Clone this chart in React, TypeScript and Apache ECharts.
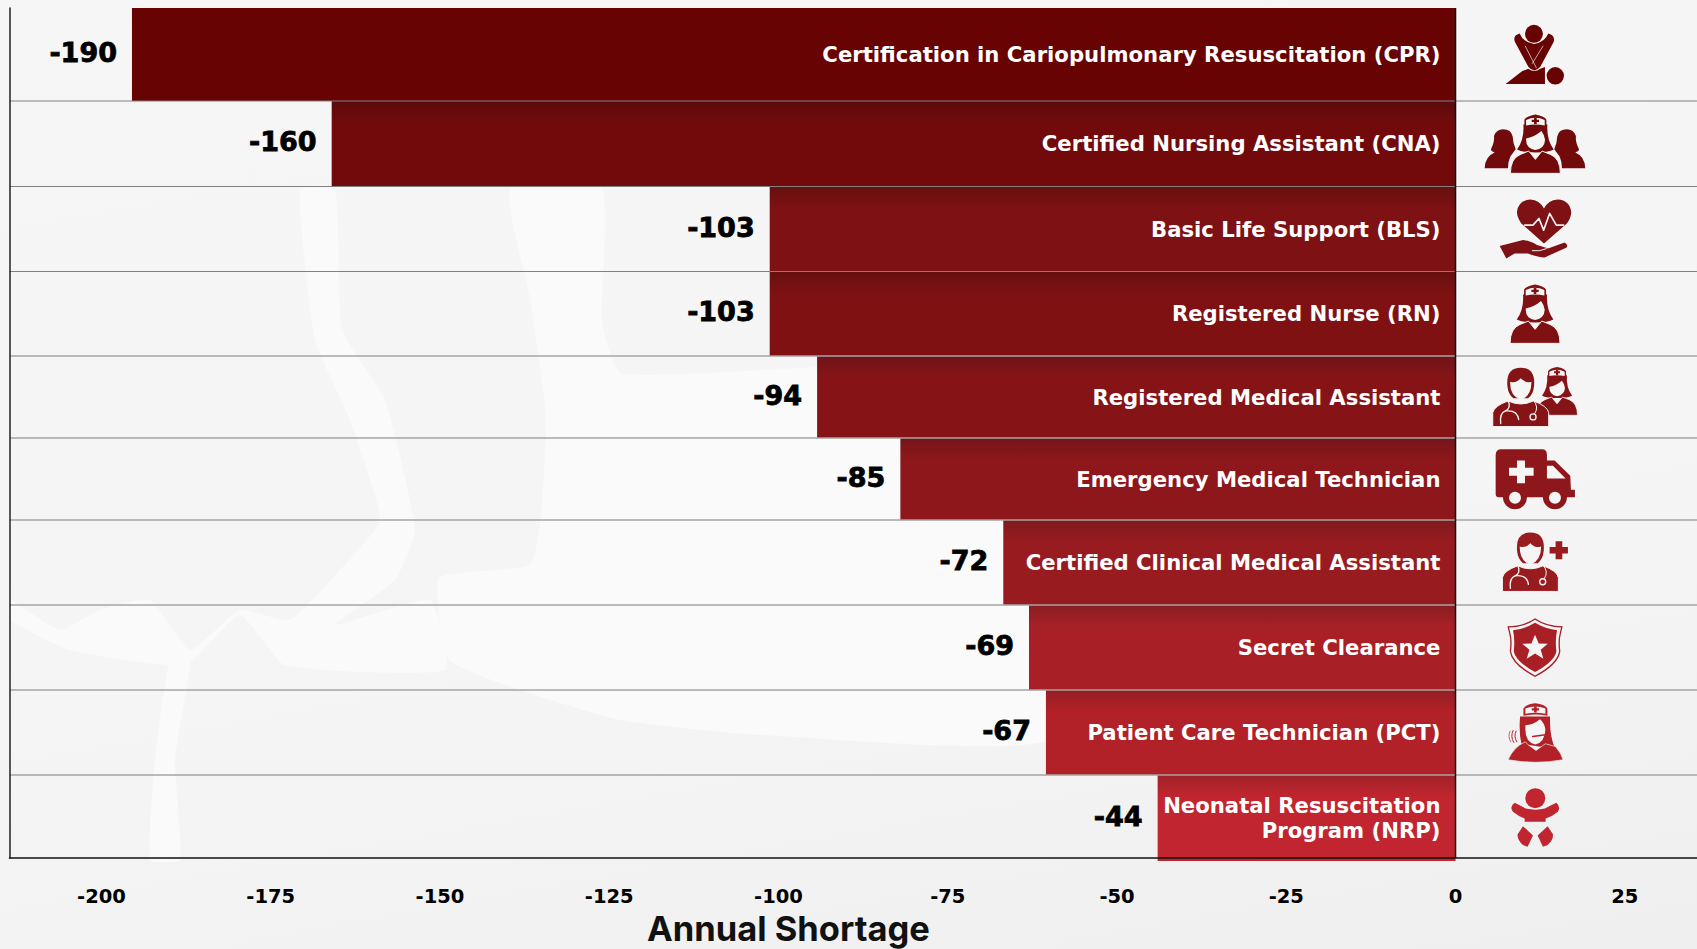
import React, { useEffect, useRef } from "react";
import * as echarts from "echarts";

const categories = [
  "Certification in Cariopulmonary Resuscitation (CPR)",
  "Certified Nursing Assistant (CNA)",
  "Basic Life Support (BLS)",
  "Registered Nurse (RN)",
  "Registered Medical Assistant",
  "Emergency Medical Technician",
  "Certified Clinical Medical Assistant",
  "Secret Clearance",
  "Patient Care Technician (PCT)",
  "Neonatal Resuscitation\nProgram (NRP)",
];
// Bar lengths as drawn in the picture (they differ from the printed labels).
const barValues = [-195.5, -166, -101.3, -101.3, -94.3, -82, -66.8, -63, -60.5, -44];
const valueLabels = ["-190", "-160", "-103", "-103", "-94", "-85", "-72", "-69", "-67", "-44"];
// Row boundaries on the hidden vertical scale: the rows are not of equal height.
const rowEdges = [0, 93, 178.5, 263.5, 348, 430, 512, 597, 682, 767, 853];
const barColors = ["#670303", "#720a0c", "#7e1113", "#7f1113", "#861417", "#8d171b", "#981b20", "#a82026", "#b22127", "#c1252f"];
const barShades = ["#670303", "#5c0a0c", "#66100f", "#66100f", "#701417", "#74151a", "#7e1a1e", "#8a1d22", "#941e23", "#a02127"];
const xTicks = [-200, -175, -150, -125, -100, -75, -50, -25, 0, 25];
const xName = "Annual Shortage";

const FONT = "'DejaVu Sans'";
const TITLE_FONT = "Inter";
const BG = "#f5f5f5";
const ICON_X = 11.75;

type Part = { d: string; k: "c" | "b" | "s" | "sc" | "cb"; w?: number };
type Sub = { x: number; y: number; s: number; parts: Node[] };
type Node = Part | Sub;

const circ = (x: number, y: number, r: number) =>
  `M${x - r} ${y}A${r} ${r} 0 1 0 ${x + r} ${y}A${r} ${r} 0 1 0 ${x - r} ${y}Z`;

const nurse: Node[] = [
  { d: "M-36 30 L36 30 Q33 75 55 105 Q40 114 0 114 Q-40 114 -55 105 Q-33 75 -36 30 Z", k: "c" },
  { d: "M-33 37 L-33 16 Q-28 5 0 0 Q28 5 33 16 L33 37 Q0 30 -33 37 Z", k: "c" },
  { d: "M-28 33 L-28 17 Q0 3 28 17 L28 33 Q0 27 -28 33 Z", k: "b" },
  { d: "M-4 10 h8 v6 h7 v7 h-7 v6 h-8 v-6 h-7 v-7 h7 z", k: "c" },
  { d: "M-28 72 Q-6 70 18 50 Q26 60 29 76 Q28 102 0 107 Q-28 102 -28 76 Z", k: "b" },
  { d: "M-75 177 Q-75 132 -45 120 L-20 110 L0 135 L20 110 L45 120 Q75 132 75 177 Z", k: "cb", w: 3 },
];
const doctor: Node[] = [
  { d: "M-40 55 Q-45 0 0 0 Q45 0 40 55 Q38 80 22 92 L-22 92 Q-38 80 -40 55 Z", k: "c" },
  { d: "M-32 42 Q-15 48 0 32 Q15 48 32 42 Q33 85 0 97 Q-33 85 -32 42 Z", k: "b" },
  { d: "M-84 177 L-84 135 Q-80 115 -38 100 Q0 118 38 100 Q80 115 84 135 L84 177 Z", k: "cb", w: 3 },
  { d: "M-38 98 Q-28 122 -46 130 Q-64 136 -60 168", k: "s", w: 4 },
  { d: "M-46 130 Q-10 126 -6 156", k: "s", w: 4 },
  { d: "M38 98 Q56 118 42 138", k: "s", w: 3 },
  { d: circ(37, 148, 9), k: "s", w: 4 },
];
const sideFigures: Node[] = [
  { d: "M135 505 Q136 470 165 458 Q150 452 155 445 Q165 425 163 408 Q170 388 190 388 Q215 388 219 410 Q220 430 228 448 L212 470 Q205 485 205 505 Z", k: "c" },
  { d: "M437 505 Q436 470 407 458 Q422 452 417 445 Q407 425 409 408 Q402 388 382 388 Q357 388 353 410 Q352 430 344 448 L360 470 Q367 485 367 505 Z", k: "c" },
];

// Icons: [centre y of the drawing, parts], coordinates in a 3x-enlarged space.
const icons: [number, Node[]][] = [
  [165, [
    { d: "M226 128 Q218 108 240 102 Q250 128 283 134 Q316 128 326 102 Q348 108 342 128 L302 202 Q284 224 266 202 Z", k: "c" },
    { d: "M257 140 L290 205", k: "s", w: 2 },
    { d: "M310 140 L278 192", k: "s", w: 2 },
    { d: circ(283, 103, 27), k: "c" },
    { d: "M198 254 L248 215 L266 208 Q284 222 302 208 L316 203 L316 254 Z", k: "c" },
    { d: circ(347, 229, 26), k: "c" },
  ]],
  [431, [...sideFigures, { x: 287, y: 343, s: 1, parts: nurse }]],
  [686, [
    { d: "M313 730 L245 670 Q232 652 232 635 Q236 600 272 598 Q300 600 313 625 Q326 600 354 598 Q392 600 395 638 Q392 660 380 672 Z", k: "c" },
    { d: "M255 675 L280 675 L298 655 L312 690 L330 640 L350 675 L372 675", k: "s", w: 5 },
    { d: "M180 738 L250 720 Q275 722 292 735 Q315 742 325 745 L375 727 Q388 735 380 743 L315 772 Q295 772 265 760 L225 760 L200 775 Z", k: "c" },
    { d: "M278 752 Q300 755 320 746", k: "s", w: 3 },
  ]],
  [940, [{ x: 286, y: 852, s: 1, parts: nurse }]],
  [173, [
    { x: 352, y: 83, s: 0.82, parts: nurse },
    { x: 243, y: 85, s: 1, parts: doctor },
  ]],
  [417, [
    { d: "M168 345 Q168 328 185 328 L308 328 Q322 328 322 345 L322 362 L345 362 L392 408 L394 450 L406 450 L406 472 L175 472 Q168 472 168 462 Z", k: "c" },
    { d: "M322 378 L340 378 L378 416 L322 416 Z", k: "b" },
    { d: "M232 362 h24 v22 h26 v24 h-26 v22 h-24 v-22 h-24 v-24 h24 z", k: "b" },
    { d: circ(226, 472, 36), k: "c" },
    { d: circ(226, 474, 18), k: "b" },
    { d: circ(346, 472, 36), k: "c" },
    { d: circ(346, 474, 18), k: "b" },
  ]],
  [668, [
    { x: 272, y: 578, s: 1, parts: doctor },
    { d: "M348 605 h20 v17 h17 v20 h-17 v17 h-20 v-17 h-18 v-20 h18 z", k: "c" },
  ]],
  [88, [
    { x: 286, y: 0, s: 1, parts: [
      { d: "M0 0 Q35 24 83 24 L78 45 Q72 65 76 100 Q70 140 0 177 Q-70 140 -76 100 Q-72 65 -78 45 L-83 24 Q-35 24 0 0 Z", k: "c" },
      { d: "M0 5 Q35 28 78 28 L74 45 Q68 65 72 100 Q66 136 0 172 Q-66 136 -72 100 Q-68 65 -74 45 L-78 28 Q-35 28 0 5 Z", k: "b" },
      { d: "M0 14 Q35 34 66 36 Q60 65 64 100 Q58 130 0 162 Q-58 130 -64 100 Q-60 65 -66 36 Q-35 34 0 14 Z", k: "c" },
      { d: "M0 50 L11 76 L38 77 L17 95 L25 122 L0 106 L-25 122 L-17 95 L-38 77 L-11 76 Z", k: "b" },
    ] },
  ]],
  [308, [
    { x: 287, y: 220, s: 1, parts: [
      { d: "M-46 40 Q-50 90 -42 122 L60 138 Q42 100 44 40 Z", k: "c" },
      { d: "M-36 38 L-36 16 Q-28 3 0 0 Q28 3 36 16 L36 38 Q0 30 -36 38 Z", k: "c" },
      { d: "M-30 32 L-30 16 Q0 4 30 16 L30 32 Q0 25 -30 32 Z", k: "b" },
      { d: "M-4 9 h8 v6 h7 v7 h-7 v6 h-8 v-6 h-7 v-7 h7 z", k: "c" },
      { d: "M-30 66 Q-8 66 14 48 Q28 60 30 80 Q28 118 0 124 Q-30 118 -30 80 Z", k: "b" },
      { d: "M-8 100 L36 94", k: "sc", w: 5 },
      { d: "M-82 170 Q-66 132 -30 116 L-22 125 L2 142 L30 122 L60 130 Q78 150 83 170 Q0 185 -82 170 Z", k: "cb", w: 2 },
      { d: "M-58 84 Q-66 100 -56 116", k: "sc", w: 3 },
      { d: "M-67 82 Q-76 100 -65 118", k: "sc", w: 3 },
      { d: "M-76 84 Q-84 100 -74 116", k: "sc", w: 2 },
    ] },
  ]],
  [563, [
    { d: circ(287, 504, 30), k: "c" },
    { d: "M255 575 L255 565 Q235 558 220 545 Q208 530 225 518 Q240 525 258 535 Q287 542 316 535 Q335 525 350 518 Q364 530 355 545 Q340 558 318 565 L318 575 Z", k: "c" },
    { d: "M250 588 L280 616 L264 650 L250 645 Q232 628 234 612 Z", k: "c" },
    { d: "M324 588 L294 616 L310 650 L324 645 Q342 628 340 612 Z", k: "c" },
  ]],
];

function buildIcon(nodes: Node[], color: string): any[] {
  return nodes.map((n: any) => {
    if (n.parts) {
      return { type: "group", x: n.x, y: n.y, scaleX: n.s, scaleY: n.s, children: buildIcon(n.parts, color) };
    }
    const style: any =
      n.k === "c" ? { fill: color } :
      n.k === "b" ? { fill: BG } :
      n.k === "s" ? { fill: "none", stroke: BG, lineWidth: n.w, lineJoin: "round", lineCap: "round" } :
      n.k === "sc" ? { fill: "none", stroke: color, lineWidth: n.w, lineCap: "round" } :
      { fill: color, stroke: BG, lineWidth: n.w };
    return { type: "path", shape: { pathData: n.d }, style };
  });
}

const rows = barValues.map((v, i) => [v, rowEdges[i], rowEdges[i + 1], i]);

function renderBar(_p: any, api: any) {
  const i = api.value(3);
  const end = api.coord([api.value(0), api.value(2)]);
  const start = api.coord([0, api.value(1)]);
  const h = end[1] - start[1];
  const cy = (start[1] + end[1]) / 2;
  const fade = Math.min(1, 22 / h);
  const children: any[] = [
    {
      type: "rect",
      shape: { x: end[0], y: start[1], width: start[0] - end[0], height: h },
      style: {
        fill: new echarts.graphic.LinearGradient(0, 0, 0, 1, [
          { offset: 0, color: barShades[i] },
          { offset: fade, color: barColors[i] },
          { offset: 1, color: barColors[i] },
        ]),
      },
    },
    {
      type: "text",
      style: {
        text: valueLabels[i], x: end[0] - 15, y: cy - 2, align: "right", verticalAlign: "middle",
        fill: "#000", stroke: "#000", lineWidth: 0.8, font: `bold 27px ${FONT}`,
      },
    },
    {
      type: "text",
      style: {
        text: categories[i], x: start[0] - 15, y: cy, align: "right", verticalAlign: "middle",
        fill: "#fff", font: `bold 21.2px ${FONT}`, lineHeight: 25,
      },
    },
    {
      type: "group",
      x: api.coord([ICON_X, 0])[0],
      y: cy,
      scaleX: 1 / 3,
      scaleY: 1 / 3,
      children: [{ type: "group", x: -286, y: -icons[i][0], children: buildIcon(icons[i][1], barColors[i]) }],
    },
  ];
  return { type: "group", children };
}

function renderLine(_p: any, api: any) {
  const i = api.value(1);
  const size = api.getWidth();
  const y = api.coord([0, api.value(0)])[1];
  if (i === barValues.length - 1) return null as any;
  return {
    type: "line",
    shape: { x1: 9.5, y1: y, x2: size, y2: y },
    style: { stroke: i < 3 ? "#808080" : "#a4a4a4", lineWidth: i < 3 ? 1 : 1.6 },
  };
}

function renderZero(_p: any, api: any) {
  const a = api.coord([0, api.value(0)]);
  const b = api.coord([0, api.value(1)]);
  return { type: "line", shape: { x1: a[0], y1: a[1], x2: b[0], y2: b[1] }, style: { stroke: "#111", lineWidth: 1.5 } };
}

const veins = [
  [[510,190],[602,190],[602,323],[622,374],[1060,374],[1060,735],[760,735],[620,720],[520,690],[449,660],[439,578],[530,565],[541,517],[546,415],[530,298]],
  [[300,190],[335,190],[342,330],[385,400],[415,530],[395,580],[335,625],[430,600],[445,670],[285,665],[240,615],[185,665],[70,650],[10,620],[10,600],[60,630],[100,610],[150,600],[190,650],[240,610],[290,620],[340,570],[380,520],[350,420],[315,340]],
  [[170,660],[190,660],[175,760],[180,860],[150,860],[155,760]],
];

export default function App() {
  const ref = useRef<HTMLDivElement>(null);
  useEffect(() => {
    document.body.style.margin = "0";
    const chart = echarts.init(ref.current!, null, { renderer: "svg" });
    chart.setOption({
      animation: false,
      backgroundColor: "transparent",
      grid: { left: 9.5, right: 0, top: 8, bottom: 91, containLabel: false },
      xAxis: {
        type: "value",
        min: -213.59,
        max: 35.67,
        z: 10,
        axisLine: { show: true, onZero: false, lineStyle: { color: "#111", width: 1.5 } },
        axisTick: { show: false },
        splitLine: { show: false },
        axisLabel: {
          customValues: xTicks,
          margin: 28,
          fontFamily: FONT,
          fontWeight: "bold",
          fontSize: 19.5,
          color: "#000",
        },
      },
      yAxis: {
        type: "value",
        inverse: true,
        min: 0,
        max: 850,
        z: 10,
        axisLine: { show: true, onZero: false, lineStyle: { color: "#222", width: 1.5 } },
        axisTick: { show: false },
        axisLabel: { show: false },
        splitLine: { show: false },
      },
      graphic: [
        ...veins.map((pts) => ({
          type: "polygon",
          z: -10,
          silent: true,
          shape: { points: pts, smooth: 0.15 },
          style: { fill: "#fafafa" },
        })),
        {
          type: "text",
          left: 647,
          top: 911,
          z: 20,
          style: { text: xName, font: `700 34.5px ${TITLE_FONT}`, fill: "#111" },
        },
      ],
      series: [
        { type: "custom", name: "bars", z: 2, data: rows, renderItem: renderBar, clip: false, encode: { x: 0, y: [1, 2] } },
        { type: "custom", name: "rows", z: 3, data: rowEdges.slice(1).map((e, i) => [e, i]), renderItem: renderLine, clip: false, encode: { y: 0 } },
        { type: "custom", name: "zero", z: 4, data: [[0, 850]], renderItem: renderZero, clip: false, encode: { y: [0, 1] } },
      ],
    });
    return () => chart.dispose();
  }, []);
  return (
    <div
      ref={ref}
      style={{
        position: "fixed",
        left: 0,
        top: 0,
        width: 1697,
        height: 949,
        background: "linear-gradient(170deg, #f6f6f6 0%, #f5f5f5 60%, #efefef 100%)",
      }}
    />
  );
}
